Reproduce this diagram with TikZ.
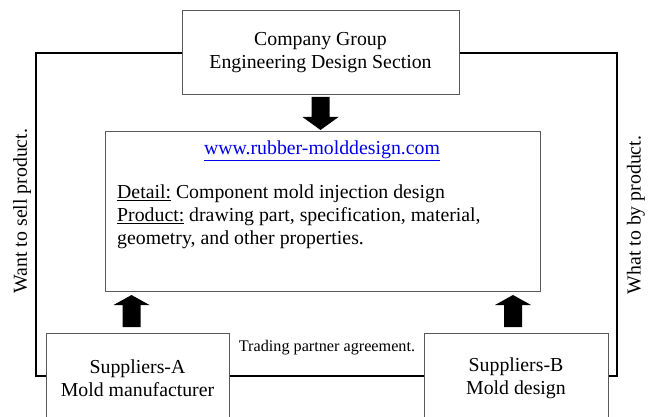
\documentclass[tikz,border=0pt]{standalone}
\usepackage{fontspec}
\setmainfont{Liberation Serif}
\usetikzlibrary{calc}
\definecolor{linkblue}{RGB}{0,0,238}
\definecolor{boxgray}{RGB}{90,90,90}
\tikzset{
  box/.style={draw=boxgray, line width=1pt, fill=white, inner sep=0pt, align=center,
    font=\fontsize{19.8}{23}\selectfont},
  outer/.style={draw=black, line width=2pt},
  maintext/.style={inner sep=0pt, font=\fontsize{19.8}{23}\selectfont},
  smalltext/.style={inner sep=0pt, font=\fontsize{16.2}{19}\selectfont},
  uparrow/.pic={\fill[black] (-9,0) -- (-9,-22) -- (-18,-22) -- (0,-32) -- (18,-22) -- (9,-22) -- (9,0) -- cycle;},
  downarrow/.pic={\fill[black] (-9,0) -- (-9,20) -- (-18,20) -- (0,33) -- (18,20) -- (9,20) -- (9,0) -- cycle;}
}
\begin{document}
\begin{tikzpicture}[x=1pt,y=-1pt]
\useasboundingbox (0,0) rectangle (653,417);
\clip (0,0) rectangle (653,417);
\fill[white] (0,0) rectangle (653,417);
% boxes
\node[box, minimum width=277pt, minimum height=84pt] (top) at (320.5,52.5)
  {Company Group\\Engineering Design Section};
\node[box, minimum width=435pt, minimum height=160pt] (mid) at (322.5,211.5) {};
\node[box, minimum width=183pt, minimum height=90pt] (supA) at (137.5,378)
  {Suppliers-A\\Mold manufacturer};
\node[box, minimum width=184pt, minimum height=90pt] (supB) at (516,378)
  {Suppliers-B\\Mold design};
% outer loop connectors
\coordinate (lc) at (36,53);
\coordinate (rc) at (617,53);
\coordinate (bl) at (36,376);
\coordinate (br) at (617,376);
\draw[outer] (top.west |- lc) -- (lc) -- (bl) -- (supA.west |- bl);
\draw[outer] (top.east |- rc) -- (rc) -- (br) -- (supB.east |- br);
\draw[outer] (supA.east |- bl) -- (supB.west |- br);
% middle box text
\node[maintext] (link) at (322,151) {\color{linkblue}\underline{www.rubber-molddesign.com}};
\node[maintext, anchor=north west, align=left] (detail) at (117,185)
  {\underline{Detail:} Component mold injection design\\
   \underline{Product:} drawing part, specification, material,\\
   geometry, and other properties.};
% side labels
\node[maintext, rotate=90] (sell) at (22,211) {Want to sell product.};
\node[maintext, rotate=90] (buy) at (636,215) {What to by product.};
\node[smalltext] (trade) at (327,348) {Trading partner agreement.};
% block arrows
\pic at (320.5,97) {downarrow};
\pic at (131.5,327) {uparrow};
\pic at (513,327) {uparrow};
\end{tikzpicture}
\end{document}
